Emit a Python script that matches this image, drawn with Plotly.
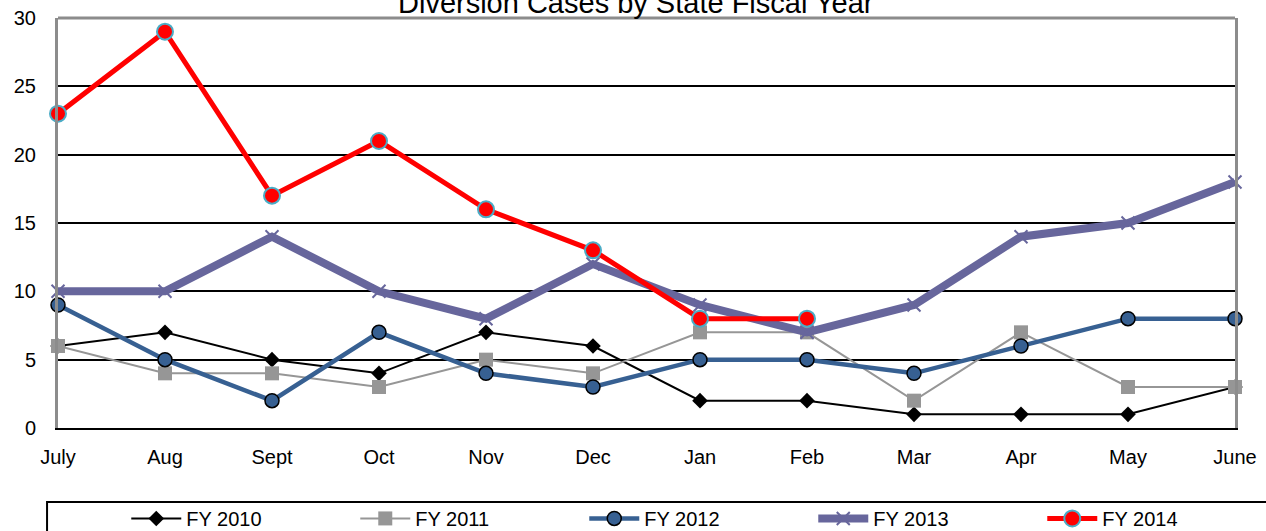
import plotly.graph_objects as go

# months of the state fiscal year
months = ['July', 'Aug', 'Sept', 'Oct', 'Nov', 'Dec', 'Jan', 'Feb', 'Mar', 'Apr', 'May', 'June']

fy2010 = [6, 7, 5, 4, 7, 6, 2, 2, 1, 1, 1, 3]
fy2011 = [6, 4, 4, 3, 5, 4, 7, 7, 2, 7, 3, 3]
fy2012 = [9, 5, 2, 7, 4, 3, 5, 5, 4, 6, 8, 8]
fy2013 = [10, 10, 14, 10, 8, 12, 9, 7, 9, 14, 15, 18]
fy2014 = [23, 29, 17, 21, 16, 13, 8, 8]

y_ticks = [0, 5, 10, 15, 20, 25, 30]

font_family = 'Liberation Sans, Arial, sans-serif'

fig = go.Figure()

fig.add_trace(go.Scatter(
    x=months, y=fy2010, name='FY 2010', mode='lines+markers', cliponaxis=False,
    line=dict(color='black', width=2),
    marker=dict(symbol='diamond', size=12, color='black')))

fig.add_trace(go.Scatter(
    x=months, y=fy2011, name='FY 2011', mode='lines+markers', cliponaxis=False,
    line=dict(color='#969696', width=2),
    marker=dict(symbol='square', size=14, color='#969696')))

fig.add_trace(go.Scatter(
    x=months, y=fy2012, name='FY 2012', mode='lines+markers', cliponaxis=False,
    line=dict(color='#376092', width=4.5),
    marker=dict(symbol='circle', size=14, color='#376092',
                line=dict(color='black', width=1.5))))

fig.add_trace(go.Scatter(
    x=months, y=fy2013, name='FY 2013', mode='lines+markers', cliponaxis=False,
    line=dict(color='#67669C', width=8),
    marker=dict(symbol='x-thin', size=13, color='#67669C',
                line=dict(color='#67669C', width=2))))

fig.add_trace(go.Scatter(
    x=months[:len(fy2014)], y=fy2014, name='FY 2014', mode='lines+markers', cliponaxis=False,
    legendwidth=80,
    line=dict(color='#FF0000', width=5),
    marker=dict(symbol='circle', size=16, color='#FF0000',
                line=dict(color='#4BACC6', width=2))))

fig.update_xaxes(
    type='category', range=[0, 11], showgrid=False,
    showline=True, linecolor='black', linewidth=2,
    ticks='', ticklabelstandoff=10,
    tickfont=dict(size=20, color='black', family=font_family))

fig.update_yaxes(
    range=[0, 30], tickvals=y_ticks, showgrid=True,
    gridcolor='black', gridwidth=2, zeroline=False,
    showline=True, linecolor='#8C8C8C', linewidth=3, mirror=True,
    ticks='', ticklabelstandoff=15,
    tickfont=dict(size=20, color='black', family=font_family))

# gray top border of the plot area
fig.add_shape(type='line', xref='paper', yref='paper', x0=0, x1=1, y0=1, y1=1,
              line=dict(color='#8C8C8C', width=3), layer='above')

# legend frame (runs past the right edge, like the original)
fig.add_shape(type='rect', xref='paper', yref='paper',
              x0=-0.0093, x1=1.1, y0=-0.1805, y1=-0.4,
              line=dict(color='black', width=2), fillcolor='rgba(0,0,0,0)')

fig.add_annotation(text='Diversion Cases by State Fiscal Year', xref='paper', yref='paper',
                   x=0.4915, y=1.037, xanchor='center', yanchor='middle', showarrow=False,
                   font=dict(size=29, color='black', family=font_family))

fig.update_layout(
    width=1266, height=531,
    margin=dict(l=58, r=31, t=18, b=103, autoexpand=False),
    paper_bgcolor='white', plot_bgcolor='white',
    font=dict(family=font_family, size=20, color='black'),
    showlegend=True,
    legend=dict(orientation='h', x=0.058, y=-0.173, xanchor='left', yanchor='top',
                entrywidth=164, itemwidth=50, font=dict(size=20, color='black'),
                bgcolor='rgba(0,0,0,0)', borderwidth=0),
)

# drop the default 8px body margin so the figure sits at the page corner
fig.write_html('out.html', config={'displayModeBar': False},
               post_script="document.body.style.margin='0';")
